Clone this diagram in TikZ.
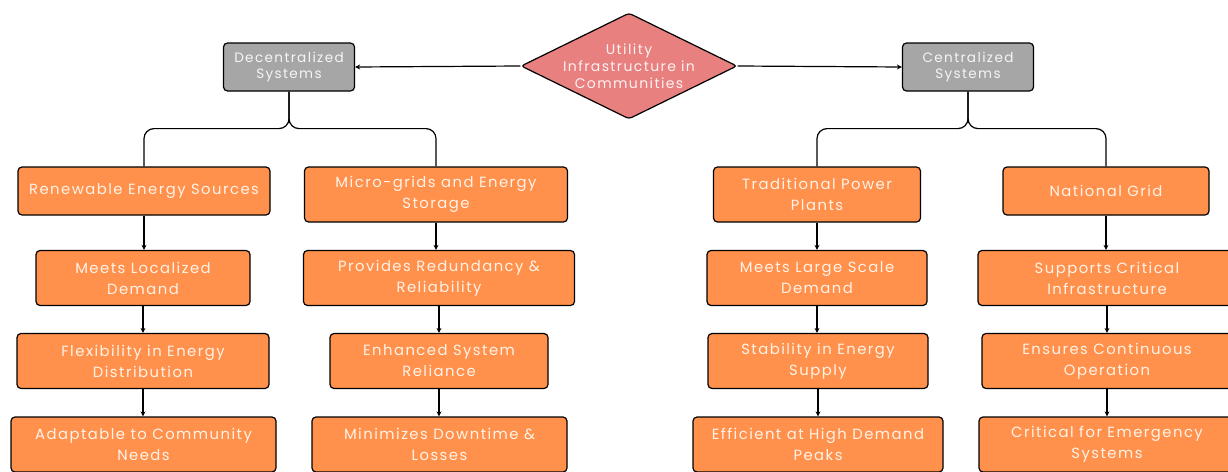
\documentclass[tikz,border=0pt]{standalone}
\usepackage{fontspec}
\setmainfont{Poppins}[LetterSpace=10]
\usetikzlibrary{shapes.geometric,arrows.meta}

\definecolor{boxorange}{HTML}{FF914D}
\definecolor{sysgray}{HTML}{A6A6A6}
\definecolor{hubpink}{HTML}{E88080}
\definecolor{labelcream}{HTML}{FFF3E8}

\tikzset{
  box/.style={draw=black, line width=1.2pt, rounded corners=4pt, fill=boxorange,
    text=labelcream, align=center, inner sep=0pt, minimum height=55pt,
    font=\fontsize{14.8}{21}\selectfont},
  sysbox/.style={box, fill=sysgray, minimum width=131pt, minimum height=48pt,
    text=white!92!gray, font=\fontsize{13.6}{16.5}\selectfont},
  hub/.style={diamond, draw=black, line width=1.2pt, fill=hubpink, rounded corners=3pt,
    minimum width=216pt, minimum height=106pt, inner sep=0pt},
  hublabel/.style={align=center, text=white!90!hubpink, font=\fontsize{14}{17}\selectfont},
  link/.style={line width=1.2pt},
  flow/.style={link, -{Stealth[length=5pt,width=5pt]}},
  branch/.style={link, rounded corners=10pt},
}

\begin{document}
\begin{tikzpicture}[x=1pt, y=-1pt]
      \clip (0,0) rectangle (1228,471);

      % Hub: utility infrastructure
      \node[hub] (hub) at (629,66) {};
      \node[hublabel] (hubtext) at (hub.center) {Utility\\Infrastructure in\\Communities};

      % Systems
      \node[sysbox] (dec) at (289,67) {Decentralized\\Systems};
      \node[sysbox] (cen) at (968,67) {Centralized\\Systems};
      \draw[flow] (hub.west) -- (dec.east);
      \draw[flow] (hub.east) -- (cen.west);

      % Column: renewable energy
      \node[box, minimum width=252pt, minimum height=48pt] (ren) at (144,191) {Renewable Energy Sources};
      \node[box, minimum width=214pt] (loc) at (143,278) {Meets Localized\\Demand};
      \node[box, minimum width=252pt] (flex) at (143,361) {Flexibility in Energy\\Distribution};
      \node[box, minimum width=265pt] (adapt) at (143.5,444.5) {Adaptable to Community\\Needs};

      % Column: micro-grids
      \node[box, minimum width=263pt] (micro) at (436,194.5) {Micro-grids and Energy\\Storage};
      \node[box, minimum width=271pt] (redund) at (439,278) {Provides Redundancy \&\\Reliability};
      \node[box, minimum width=218pt] (enh) at (439,361) {Enhanced System\\Reliance};
      \node[box, minimum width=255pt] (downtime) at (439.5,444.5) {Minimizes Downtime \&\\Losses};

      % Column: power plants
      \node[box, minimum width=207pt] (plants) at (817,194.5) {Traditional Power\\Plants};
      \node[box, minimum width=220pt] (large) at (817,278) {Meets Large Scale\\Demand};
      \node[box, minimum width=220pt] (stab) at (818,361) {Stability in Energy\\Supply};
      \node[box, minimum width=250pt] (peaks) at (818,444.5) {Efficient at High Demand\\Peaks};

      % Column: national grid
      \node[box, minimum width=206pt, minimum height=48pt] (grid) at (1106,191) {National Grid};
      \node[box, minimum width=258pt] (crit) at (1107,278) {Supports Critical\\Infrastructure};
      \node[box, minimum width=250pt] (cont) at (1107,361) {Ensures Continuous\\Operation};
      \node[box, minimum width=256pt] (emerg) at (1107,444.5) {Critical for Emergency\\Systems};

      % Branches
      \draw[branch] (dec.south) -- ++(0,37) -| (ren.north);
      \draw[branch] (dec.south) -- ++(0,37) -| (micro.north);
      \draw[branch] (cen.south) -- ++(0,37) -| (plants.north);
      \draw[branch] (cen.south) -- ++(0,37) -| (grid.north);

      % Chains
      \draw[flow] (ren.south) -- (ren.south |- loc.north);
      \draw[flow] (loc.south) -- (loc.south |- flex.north);
      \draw[flow] (flex.south) -- (flex.south |- adapt.north);
      \draw[flow] (micro.south) -- (micro.south |- redund.north);
      \draw[flow] (redund.south) -- (redund.south |- enh.north);
      \draw[flow] (enh.south) -- (enh.south |- downtime.north);
      \draw[flow] (plants.south) -- (plants.south |- large.north);
      \draw[flow] (large.south) -- (large.south |- stab.north);
      \draw[flow] (stab.south) -- (stab.south |- peaks.north);
      \draw[flow] (grid.south) -- (grid.south |- crit.north);
      \draw[flow] (crit.south) -- (crit.south |- cont.north);
      \draw[flow] (cont.south) -- (cont.south |- emerg.north);
    \end{tikzpicture}
\end{document}
